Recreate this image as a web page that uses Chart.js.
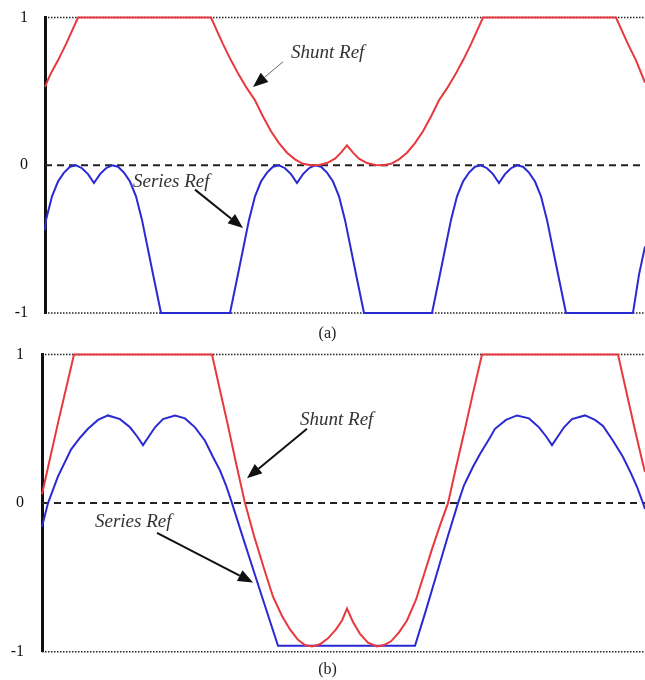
<!DOCTYPE html>
<html>
<head>
<meta charset="utf-8">
<script src="https://cdn.jsdelivr.net/npm/chart.js@4"></script>
<style>
body { margin: 0; background: #fff; width: 645px; height: 680px; position: relative; overflow: hidden; font-family: "Liberation Serif", serif; }
.panel { position: absolute; left: 0; width: 645px; height: 340px; }
.cap { position: absolute; left: 5px; width: 645px; text-align: center; font-size: 16px; line-height: 18px; color: #222; }
</style>
</head>
<body>
<div class="panel" style="top:0"><canvas id="chartA" width="645" height="340"></canvas></div>
<div class="panel" style="top:340px"><canvas id="chartB" width="645" height="340"></canvas></div>
<div class="cap" style="top:324px">(a)</div>
<div class="cap" style="top:660px">(b)</div>
<script>
const yTicks = [-1, 0, 1];

// panel (a)
const shuntAX = [0, 5, 13, 21, 27, 33, 166, 172, 178, 186, 194, 202, 210, 218, 226, 234, 242, 250, 258, 266, 274, 282, 290, 296, 302,
    308, 314, 322, 330, 338, 346, 354, 362, 370, 378, 386, 394, 402, 410, 418, 426, 432, 438, 571, 577, 583, 591, 600];
const shuntAY = [0.53, 0.61, 0.71, 0.82, 0.91, 1, 1, 0.91, 0.82, 0.71, 0.61, 0.52, 0.44, 0.33, 0.23, 0.15, 0.085, 0.04, 0.01, 0, 0.002, 0.015, 0.045, 0.085, 0.135,
    0.085, 0.045, 0.015, 0.002, 0, 0.01, 0.04, 0.085, 0.15, 0.23, 0.33, 0.44, 0.52, 0.61, 0.71, 0.82, 0.91, 1, 1, 0.91, 0.82, 0.71, 0.56];
const seriesAX = [0, 1, 7, 13, 19, 25, 31, 37, 43, 49, 55, 61, 67, 73, 79, 85, 91, 97, 103, 109, 116,
    185, 192, 198, 204, 210, 216, 222, 228, 234, 240, 246, 252, 258, 264, 270, 276, 282, 288, 294, 300, 306, 312, 319,
    387, 394, 400, 406, 412, 418, 424, 430, 436, 442, 448, 454, 460, 466, 472, 478, 484, 490, 496, 502, 508, 514, 521,
    588, 594, 600];
const seriesAY = [-0.44, -0.37, -0.21, -0.11, -0.05, -0.01, 0, -0.02, -0.06, -0.12, -0.06, -0.02, 0, -0.01, -0.05, -0.11, -0.21, -0.37, -0.57, -0.77, -1,
    -1, -0.77, -0.57, -0.37, -0.21, -0.11, -0.05, -0.01, 0, -0.02, -0.06, -0.12, -0.06, -0.02, 0, -0.01, -0.05, -0.11, -0.21, -0.37, -0.57, -0.77, -1,
    -1, -0.77, -0.57, -0.37, -0.21, -0.11, -0.05, -0.01, 0, -0.02, -0.06, -0.12, -0.06, -0.02, 0, -0.01, -0.05, -0.11, -0.21, -0.37, -0.57, -0.77, -1,
    -1, -0.74, -0.55];

// panel (b)
const shuntBX = [0, 8, 16, 24, 32, 170, 178, 186, 194, 203, 212, 222, 231, 240, 248, 256, 263, 270, 278, 286, 294, 300, 305,
    311, 318, 326, 335, 342, 349, 357, 365, 374, 382, 390, 398, 406, 414, 423, 431, 440, 576, 584, 592, 600, 603];
const shuntBY = [0.06, 0.30, 0.54, 0.77, 1, 1, 0.76, 0.52, 0.27, 0, -0.22, -0.44, -0.63, -0.76, -0.85, -0.92, -0.955, -0.965, -0.95, -0.91, -0.85, -0.79, -0.71,
    -0.80, -0.88, -0.94, -0.965, -0.955, -0.93, -0.87, -0.79, -0.65, -0.48, -0.31, -0.15, 0, 0.24, 0.50, 0.74, 1, 1, 0.76, 0.52, 0.29, 0.21];
const seriesBX = [0, 6, 16, 29, 38, 46, 56, 66, 78, 88, 95, 101, 107, 113, 121, 133, 143, 153, 163, 171, 178, 184, 190, 198, 208, 221, 236,
    373, 384, 395, 406, 416, 422, 431, 438, 447, 453, 464, 475, 487, 497, 504, 510, 516, 522, 530, 543, 553, 561, 571, 581, 589, 595, 601, 603];
const seriesBY = [-0.16, 0, 0.18, 0.36, 0.44, 0.50, 0.56, 0.59, 0.565, 0.51, 0.45, 0.39, 0.45, 0.51, 0.565, 0.59, 0.57, 0.51, 0.42, 0.31, 0.22, 0.12, 0, -0.17, -0.38, -0.65, -0.96,
    -0.96, -0.72, -0.47, -0.22, 0, 0.12, 0.245, 0.33, 0.43, 0.50, 0.56, 0.59, 0.57, 0.51, 0.45, 0.39, 0.45, 0.51, 0.565, 0.59, 0.56, 0.52, 0.42, 0.31, 0.20, 0.11, 0, -0.04];

// labels with arrows, in data units
const notesA = [
    { text: 'Shunt Ref', at: [246, 0.76], from: [238, 0.70], to: [208, 0.53], thin: true },
    { text: 'Series Ref', at: [88, -0.11], from: [150, -0.165], to: [198, -0.425] }
];
const notesB = [
    { text: 'Shunt Ref', at: [258, 0.56], from: [265, 0.50], to: [205, 0.167] },
    { text: 'Series Ref', at: [53, -0.13], from: [115, -0.20], to: [211, -0.534] }
];

function pts(xs, ys) {
    return xs.map((x, i) => ({ x, y: ys[i] }));
}

function refLines(xMax) {
    return yTicks.map(v => ({
        data: [{ x: 0, y: v }, { x: xMax, y: v }],
        borderColor: '#222',
        borderWidth: v === 0 ? 2 : 1.5,
        borderDash: v === 0 ? [7, 5] : [1.5, 1.5],
        clip: false
    }));
}

const notesPlugin = {
    id: 'notes',
    afterDatasetsDraw(chart, args, opts) {
        const ctx = chart.ctx;
        const sx = chart.scales.x, sy = chart.scales.y;
        ctx.save();
        opts.items.forEach(n => {
            ctx.font = 'italic 19px "Liberation Serif"';
            ctx.fillStyle = '#333';
            ctx.textBaseline = 'middle';
            ctx.textAlign = 'left';
            ctx.fillText(n.text, sx.getPixelForValue(n.at[0]), sy.getPixelForValue(n.at[1]));

            const x1 = sx.getPixelForValue(n.from[0]), y1 = sy.getPixelForValue(n.from[1]);
            const x2 = sx.getPixelForValue(n.to[0]), y2 = sy.getPixelForValue(n.to[1]);
            const a = Math.atan2(y2 - y1, x2 - x1);
            const len = 15, w = 6;
            const bx = x2 - len * Math.cos(a), by = y2 - len * Math.sin(a);
            ctx.strokeStyle = n.thin ? '#666' : '#111';
            ctx.lineWidth = n.thin ? 1 : 2;
            ctx.beginPath();
            ctx.moveTo(x1, y1);
            ctx.lineTo(bx, by);
            ctx.stroke();
            ctx.fillStyle = '#111';
            ctx.beginPath();
            ctx.moveTo(x2, y2);
            ctx.lineTo(bx + w * Math.sin(a), by - w * Math.cos(a));
            ctx.lineTo(bx - w * Math.sin(a), by + w * Math.cos(a));
            ctx.closePath();
            ctx.fill();
        });
        ctx.restore();
    }
};

function makeChart(id, shunt, series, xMax, axisW, pad, tickPad, notes) {
    return new Chart(document.getElementById(id), {
        type: 'line',
        data: {
            datasets: [
                { data: shunt, borderColor: '#e8383d', borderWidth: 2, clip: false },
                { data: series, borderColor: '#2a2ad2', borderWidth: 2, clip: false },
                ...refLines(xMax)
            ]
        },
        options: {
            responsive: false,
            animation: false,
            layout: { padding: { top: pad[0], bottom: pad[1], left: 0, right: 0 } },
            elements: { point: { radius: 0 }, line: { tension: 0 } },
            plugins: {
                legend: { display: false },
                tooltip: { enabled: false },
                notes: { items: notes }
            },
            scales: {
                x: { type: 'linear', min: 0, max: xMax, display: false },
                y: {
                    min: -1,
                    max: 1,
                    afterBuildTicks: s => { s.ticks = yTicks.map(v => ({ value: v })); },
                    afterFit: s => { s.width = axisW; s.paddingTop = 0; s.paddingBottom = 0; },
                    grid: { display: false, drawTicks: false },
                    border: { display: true, color: '#111', width: 3 },
                    ticks: {
                        padding: tickPad,
                        color: '#111',
                        font: { family: 'Liberation Serif', size: 16 },
                        callback: v => String(v)
                    }
                }
            }
        },
        plugins: [notesPlugin]
    });
}

makeChart('chartA', pts(shuntAX, shuntAY), pts(seriesAX, seriesAY), 600, 45, [17.5, 27], 17, notesA);
makeChart('chartB', pts(shuntBX, shuntBY), pts(seriesBX, seriesBY), 603, 42, [14.5, 28.3], 18, notesB);
</script>
</body>
</html>
